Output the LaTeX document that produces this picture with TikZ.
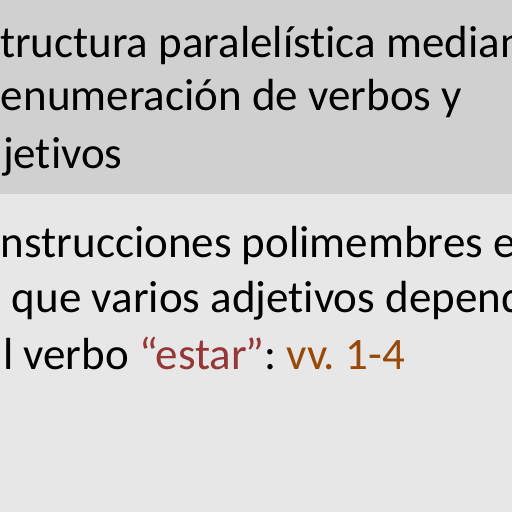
\documentclass[tikz,border=0pt]{standalone}
\usepackage{fontspec}
\setmainfont{Carlito}[Ligatures=NoCommon]
\frenchspacing
\definecolor{topgray}{HTML}{D0D0D0}
\definecolor{botgray}{HTML}{E7E7E7}
\definecolor{estarred}{HTML}{953735}
\definecolor{vvbrown}{HTML}{984807}
\begin{document}
\begin{tikzpicture}[x=1pt,y=-1pt,
  slidetext/.style={anchor=base west,inner sep=0pt,outer sep=0pt,font=\fontsize{45}{54}\selectfont,text=black}]
\useasboundingbox (0,0) rectangle (512,512);
\clip (0,0) rectangle (512,512);
\fill[botgray] (0,0) rectangle (512,512);
\fill[topgray] (0,0) rectangle (512,194);
\node[slidetext] (t1) at (0,57) {tructura paralelística mediante};
\node[slidetext] (t2) at (1,110) {enumeración de verbos y};
\node[slidetext] (t3) at (3,168) {jetivos};
\node[slidetext] (b1) at (1,257) {nstrucciones polimembres en};
\node[slidetext] (b2) at (12,312) {que varios adjetivos dependen};
\node[slidetext] (b3) at (3,369) {l verbo \textcolor{estarred}{“estar\kern-1.5pt”}: \textcolor{vvbrown}{vv. 1-4}};
\end{tikzpicture}
\end{document}
